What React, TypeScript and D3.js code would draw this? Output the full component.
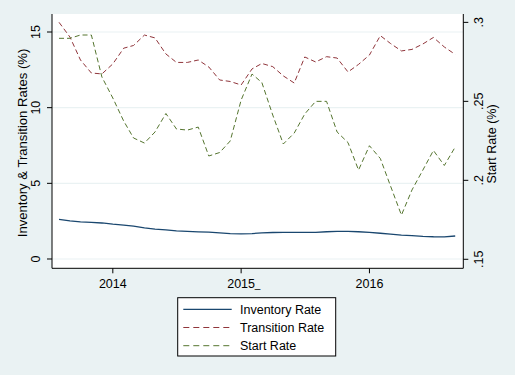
import React from "react";
import * as d3 from "d3";

const inventoryRate = [2.62, 2.52, 2.45, 2.42, 2.38, 2.30, 2.24, 2.17, 2.05, 1.98, 1.93, 1.86, 1.82, 1.79, 1.77, 1.72, 1.68, 1.66, 1.68, 1.72, 1.75, 1.76, 1.76, 1.76, 1.76, 1.80, 1.82, 1.82, 1.80, 1.76, 1.70, 1.64, 1.58, 1.55, 1.50, 1.47, 1.46, 1.52];
const transitionRate = [15.64, 14.67, 13.15, 12.29, 12.23, 12.89, 13.93, 14.11, 14.80, 14.61, 13.55, 12.99, 12.99, 13.15, 12.69, 11.83, 11.73, 11.50, 12.56, 12.92, 12.71, 12.10, 11.63, 13.35, 13.02, 13.37, 13.28, 12.36, 12.86, 13.48, 14.76, 14.24, 13.75, 13.85, 14.21, 14.64, 14.01, 13.52];
const startRate = [0.2899, 0.2899, 0.2920, 0.2920, 0.2654, 0.2521, 0.2375, 0.2268, 0.2236, 0.2306, 0.2423, 0.2325, 0.2318, 0.2337, 0.2154, 0.2176, 0.2249, 0.2508, 0.2673, 0.2619, 0.2413, 0.2230, 0.2299, 0.2420, 0.2500, 0.2500, 0.2306, 0.2239, 0.2065, 0.2219, 0.2138, 0.1964, 0.1780, 0.1939, 0.2065, 0.2189, 0.2094, 0.2211];
const months = d3.timeMonth.range(new Date(2013, 7, 1), new Date(2016, 9, 1));
const leftTicks = [0, 5, 10, 15];
const rightTicks = [0.15, 0.2, 0.25, 0.3];
const rightTickLabels = [".15", ".2", ".25", ".3"];
const xTickYears = [2014, 2015, 2016];
const xTickLabels = ["2014", "2015", "2016"];
const xTickSuffix = ["", "_", ""];
const legendItems = ["Inventory Rate", "Transition Rate", "Start Rate"];

const W = 515, H = 375;
const L = 52, R = 463.3, T = 14, B = 268.3;
const BG = "#EAF2F3";
const NAVY = "#1a476f", MAROON = "#90353b", GREEN = "#55752f";
const FONT = "Liberation Sans, Arial, sans-serif";
const FS = 12.5;

export default function App() {
  const x = d3.scaleTime()
    .domain([new Date(2013, 6, 12), new Date(2016, 8, 24)])
    .range([L, R]);
  const yL = d3.scaleLinear().domain([-0.615, 16.19]).range([B, T]);
  const yR = d3.scaleLinear().domain([0.1443, 0.3053]).range([B, T]);

  const lineL = d3.line<number>().x((_, i) => x(months[i])).y(d => yL(d));
  const lineR = d3.line<number>().x((_, i) => x(months[i])).y(d => yR(d));
  const dash = "5 3";

  return (
    <svg width={W} height={H} style={{ position: "absolute", left: 0, top: 0 }} fontFamily={FONT}>
      <rect x={0} y={0} width={W} height={H} fill={BG} />
      <rect x={L} y={T} width={R - L} height={B - T} fill="#ffffff" />
      {leftTicks.map(t => (
        <line key={"g" + t} x1={L} x2={R} y1={yL(t)} y2={yL(t)} stroke={BG} strokeWidth={1.2} />
      ))}
      <path d={lineL(inventoryRate) || ""} fill="none" stroke={NAVY} strokeWidth={1.3} />
      <path d={lineL(transitionRate) || ""} fill="none" stroke={MAROON} strokeWidth={1} strokeDasharray={dash} />
      <path d={lineR(startRate) || ""} fill="none" stroke={GREEN} strokeWidth={1} strokeDasharray={dash} />
      {/* axes */}
      <line x1={L} x2={L} y1={T} y2={B} stroke="#000" strokeWidth={1} />
      <line x1={R} x2={R} y1={T} y2={B} stroke="#000" strokeWidth={1} />
      <line x1={L} x2={R} y1={B} y2={B} stroke="#000" strokeWidth={1} />
      {leftTicks.map(t => (
        <g key={"l" + t}>
          <line x1={L - 5} x2={L} y1={yL(t)} y2={yL(t)} stroke="#000" />
          <text x={40} y={yL(t)} transform={`rotate(-90 40 ${yL(t)})`} textAnchor="middle" fontSize={FS} fill="#000">{t}</text>
        </g>
      ))}
      {rightTicks.map((t, i) => (
        <g key={"r" + t}>
          <line x1={R} x2={R + 5} y1={yR(t)} y2={yR(t)} stroke="#000" />
          <text x={483} y={yR(t)} transform={`rotate(-90 483 ${yR(t)})`} textAnchor="middle" fontSize={FS} fill="#000">{rightTickLabels[i]}</text>
        </g>
      ))}
      {xTickYears.map((yr, i) => {
        const px = x(new Date(yr, 0, 1));
        return (
          <g key={"x" + yr}>
            <line x1={px} x2={px} y1={B} y2={B + 5} stroke="#000" />
            <text x={px} y={288} textAnchor="middle" fontSize={FS} fill="#000">{xTickLabels[i]}</text>
            {xTickSuffix[i] && (
              <text x={px + 13.5} y={288} fontSize={FS * 0.8} fill="#000">{xTickSuffix[i]}</text>
            )}
          </g>
        );
      })}
      <text x={26.5} y={143} transform={`rotate(-90 26.5 143)`} textAnchor="middle" fontSize={13.1} fill="#000">Inventory &amp; Transition Rates (%)</text>
      <text x={496} y={144} transform={`rotate(-90 496 144)`} textAnchor="middle" fontSize={FS} fill="#000">Start Rate (%)</text>
      {/* legend */}
      <rect x={177.7} y={297.7} width={158} height={58.3} fill="#fff" stroke="#000" strokeWidth={1} />
      {legendItems.map((name, i) => {
        const yy = 309.3 + i * 18.2;
        const col = [NAVY, MAROON, GREEN][i];
        return (
          <g key={name}>
            <line x1={183.3} x2={231.7} y1={yy} y2={yy} stroke={col} strokeWidth={i === 0 ? 1.3 : 1} strokeDasharray={i === 0 ? undefined : "6 4"} />
            <text x={240} y={yy + 4.5} fontSize={FS} fill="#000">{name}</text>
          </g>
        );
      })}
    </svg>
  );
}
